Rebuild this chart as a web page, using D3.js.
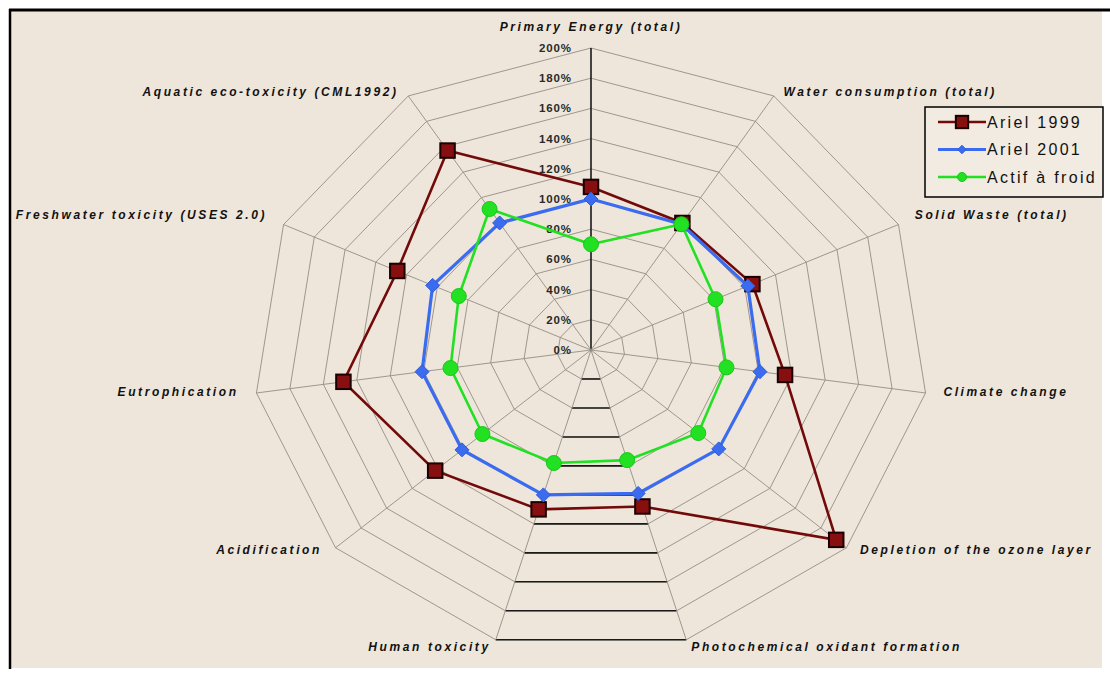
<!DOCTYPE html>
<html>
<head>
<meta charset="utf-8">
<script src="https://cdn.jsdelivr.net/npm/d3@7"></script>
<style>
  html, body { margin: 0; padding: 0; background: #ffffff; }
  svg { display: block; }
  .axlab { font-family: "Liberation Sans", Arial, sans-serif; font-weight: bold; font-style: italic; font-size: 12px; letter-spacing: 2.6px; fill: #111; }
  .tick { font-family: "Liberation Sans", Arial, sans-serif; font-weight: bold; font-size: 11.5px; letter-spacing: 0.9px; fill: #2a2a2a; }
  .leg { font-family: "Liberation Sans", Arial, sans-serif; font-size: 16px; letter-spacing: 2.3px; fill: #111; }
</style>
</head>
<body>
<svg id="chart" width="1110" height="676"></svg>
<script>
// ---- data ----
const categories = [
  "Primary Energy (total)",
  "Water consumption (total)",
  "Solid Waste (total)",
  "Climate change",
  "Depletion of the ozone layer",
  "Photochemical oxidant formation",
  "Human toxicity",
  "Acidification",
  "Eutrophication",
  "Freshwater toxicity (USES 2.0)",
  "Aquatic eco-toxicity (CML1992)"
];
const seriesNames = ["Ariel 1999", "Ariel 2001", "Actif à froid"];
const ariel1999 = [1.08, 1.00, 1.05, 1.16, 1.92, 1.08, 1.10, 1.22, 1.48, 1.26, 1.57];
const ariel2001 = [1.00, 0.99, 1.02, 1.01, 1.00, 0.99, 1.00, 1.01, 1.01, 1.03, 1.00];
const actifFroid = [0.70, 0.99, 0.81, 0.81, 0.84, 0.76, 0.78, 0.85, 0.84, 0.86, 1.11];
const tickValues = [0, 0.2, 0.4, 0.6, 0.8, 1.0, 1.2, 1.4, 1.6, 1.8, 2.0];
const tickLabels = ["0%", "20%", "40%", "60%", "80%", "100%", "120%", "140%", "160%", "180%", "200%"];

// ---- layout ----
const svg = d3.select("#chart");
const cx = 591, cy = 350;
const rx = d3.scaleLinear().domain([0, 2]).range([0, 338]);
const ry = d3.scaleLinear().domain([0, 2]).range([0, 302]);
const n = categories.length;
const angle = d3.scaleLinear().domain([0, n]).range([0, 2 * Math.PI]);
const px = (i, v) => cx + Math.sin(angle(i)) * rx(v);
const py = (i, v) => cy - Math.cos(angle(i)) * ry(v);

// frame / background
svg.append("rect").attr("x", 10).attr("y", 10).attr("width", 1092).attr("height", 658).attr("fill", "#eee6da");
svg.append("line").attr("x1", 9).attr("x2", 1110).attr("y1", 10).attr("y2", 10).attr("stroke", "#000").attr("stroke-width", 3);
svg.append("line").attr("x1", 10).attr("x2", 10).attr("y1", 9).attr("y2", 669).attr("stroke", "#000").attr("stroke-width", 2.5);

const g = svg.append("g");

// grid rings
const ringVals = tickValues.slice(1);
ringVals.forEach(v => {
  const pts = d3.range(n).map(i => [px(i, v), py(i, v)]);
  g.append("path")
    .attr("d", d3.line().curve(d3.curveLinearClosed)(pts))
    .attr("fill", "none").attr("stroke", "#958d85").attr("stroke-width", 0.9);
  // bottom edge (between axes 5 and 6) drawn dark
  g.append("line")
    .attr("x1", px(5, v)).attr("y1", py(5, v)).attr("x2", px(6, v)).attr("y2", py(6, v))
    .attr("stroke", "#1a1a1a").attr("stroke-width", 1.6);
});
// spokes
d3.range(n).forEach(i => {
  g.append("line")
    .attr("x1", cx).attr("y1", cy).attr("x2", px(i, 2)).attr("y2", py(i, 2))
    .attr("stroke", i === 0 ? "#1a1a1a" : "#958d85").attr("stroke-width", i === 0 ? 1.6 : 0.9);
});

// tick labels
tickValues.forEach((v, k) => {
  g.append("text").attr("class", "tick")
    .attr("x", cx - 19).attr("y", py(0, v)).attr("dy", "0.35em")
    .attr("text-anchor", "end").text(tickLabels[k]);
});

// axis labels
categories.forEach((c, i) => {
  const s = Math.sin(angle(i)), co = Math.cos(angle(i));
  const t = g.append("text").attr("class", "axlab");
  if (Math.abs(s) < 0.1) {
    t.attr("x", px(i, 2)).attr("y", py(i, 2) - 21).attr("dy", "0.35em").attr("text-anchor", "middle");
  } else {
    const lift = (co > 0.2 && co < 0.6) ? 8 : (co < 0.2 && co > -0.9 ? 3 : 0);
    t.attr("x", px(i, 2) + s * 18).attr("y", py(i, 2) - co * 6 + 1 - lift).attr("dy", "0.35em")
     .attr("text-anchor", s > 0 ? "start" : "end");
  }
  t.text(c);
});

// series
const series = [
  { name: seriesNames[0], values: ariel1999, color: "#730a0a", width: 2.6, marker: "square" },
  { name: seriesNames[1], values: ariel2001, color: "#3b6cf0", width: 3.2, marker: "diamond" },
  { name: seriesNames[2], values: actifFroid, color: "#22e022", width: 2.6, marker: "circle" }
];

function drawMarker(sel, type, x, y, color, scale) {
  if (type === "square") {
    const s = 14.5 * scale;
    sel.append("rect").attr("x", x - s / 2).attr("y", y - s / 2).attr("width", s).attr("height", s)
      .attr("fill", "#870f0f").attr("stroke", "#1a0000").attr("stroke-width", 2);
  } else if (type === "diamond") {
    const s = 7 * scale;
    sel.append("path").attr("d", `M${x},${y - s}L${x + s},${y}L${x},${y + s}L${x - s},${y}Z`)
      .attr("fill", color).attr("stroke", "#2f5bd8").attr("stroke-width", 1);
  } else {
    sel.append("circle").attr("cx", x).attr("cy", y).attr("r", 7.5 * scale)
      .attr("fill", color).attr("stroke", "#18c818").attr("stroke-width", 1);
  }
}

series.forEach(sr => {
  const pts = sr.values.map((v, i) => [px(i, v), py(i, v)]);
  g.append("path").attr("d", d3.line().curve(d3.curveLinearClosed)(pts))
    .attr("fill", "none").attr("stroke", sr.color).attr("stroke-width", sr.width);
  pts.forEach(p => drawMarker(g, sr.marker, p[0], p[1], sr.color, 1));
});

// legend
const lg = svg.append("g");
lg.append("rect").attr("x", 925).attr("y", 107).attr("width", 178).attr("height", 90)
  .attr("fill", "#f1ebe1").attr("stroke", "#000").attr("stroke-width", 1.5);
const legY = d3.scalePoint().domain(seriesNames).range([122, 177]);
series.forEach(sr => {
  const y = legY(sr.name);
  lg.append("line").attr("x1", 938).attr("x2", 986).attr("y1", y).attr("y2", y)
    .attr("stroke", sr.color).attr("stroke-width", sr.width);
  drawMarker(lg, sr.marker, 962, y, sr.color, sr.marker === "square" ? 0.85 : 0.6);
  lg.append("text").attr("class", "leg").attr("x", 987).attr("y", y).attr("dy", "0.35em").text(sr.name);
});
</script>
</body>
</html>
